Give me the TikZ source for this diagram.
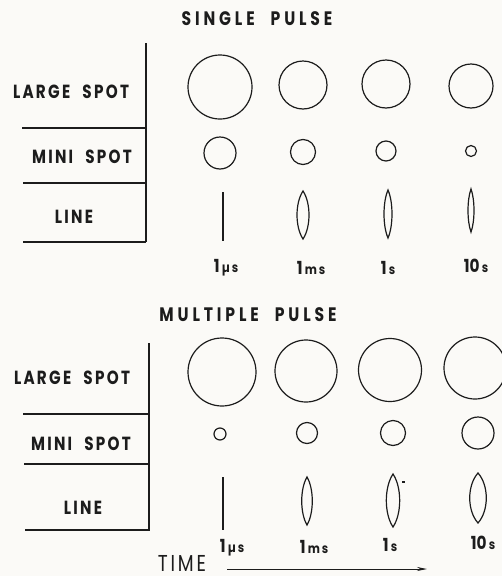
\documentclass[tikz,border=0pt]{standalone}
\usepackage{fontspec}
\setmainfont{Poppins}
\newfontfamily\titlefont[LetterSpace=20, FakeStretch=0.8, WordSpace=2.2]{Poppins}
\newfontfamily\rowfont[LetterSpace=12, FakeStretch=0.8, WordSpace=2.2]{Poppins}
\newfontfamily\unitfont[LetterSpace=14, FakeStretch=0.85]{Poppins}
\newfontfamily\narrowfont[FakeStretch=0.85]{Poppins}
\usetikzlibrary{arrows.meta}
\definecolor{paper}{RGB}{251,250,247}
\definecolor{ink}{RGB}{28,28,28}

% time value: big digit, small unit
\newcommand{\tval}[2]{{\fontsize{18}{18}\selectfont #1}{\unitfont\bfseries\fontsize{13.5}{13.5}\selectfont\,#2}}
% lens: x, top, bottom, half width
\newcommand{\lens}[4]{%
  \draw[spot] (#1,#2) .. controls ({#1+1.33*#4},{#2+0.25*(#3-#2)}) and ({#1+1.33*#4},{#3-0.25*(#3-#2)}) .. (#1,#3)
    .. controls ({#1-1.33*#4},{#3-0.25*(#3-#2)}) and ({#1-1.33*#4},{#2+0.25*(#3-#2)}) .. cycle;}

\begin{document}
\begin{tikzpicture}[x=1pt, y=-1pt,
      every node/.style={text=ink, inner sep=0pt},
      heading/.style={font=\titlefont\bfseries\fontsize{19.5}{19.5}\selectfont},
      rowlabel/.style={font=\rowfont\bfseries\fontsize{19}{19}\selectfont},
      axislabel/.style={font=\rowfont\fontsize{23}{23}\selectfont},
      tlabel/.style={font=\narrowfont\bfseries},
      spot/.style={draw=ink, line width=1.2pt},
      frame/.style={draw=ink, line width=1.3pt},
      arrow/.style={-{Stealth[length=10pt, width=4pt]}, draw=ink, line width=0.9pt}
  ]
    \fill[paper] (0,0) rectangle (502,576);
    \useasboundingbox (0,0) rectangle (502,576);

    % single pulse
    \node[heading] (single) at (257,19) {SINGLE PULSE};
    \draw[frame] (146,43) -- (146,242);
    \draw[frame] (22,128) -- (146,128);
    \draw[frame] (23,183) -- (146,183);
    \draw[frame] (23,242) -- (146,242);
    \node[rowlabel] (slarge) at (71,92) {LARGE SPOT};
    \node[rowlabel] (smini) at (82,157) {MINI SPOT};
    \node[rowlabel] (sline) at (74,217) {LINE};

    \draw[spot] (220,87) circle[radius=32];
    \draw[spot] (303,85) circle[radius=24];
    \draw[spot] (386,84) circle[radius=24];
    \draw[spot] (471,86) circle[radius=22];
    \draw[spot] (220,153) circle[radius=16];
    \draw[spot] (303,152) circle[radius=12.5];
    \draw[spot] (386,151) circle[radius=10];
    \draw[spot] (471,151) circle[radius=5.5];
    \draw[spot, line width=1.4pt] (223,192) -- (223,241);
    \lens{303}{191}{239}{6}
    \lens{388}{190}{238}{4}
    \lens{471}{189}{232}{3}

    \node[tlabel] (s1) at (226,268) {\tval{1}{µs}};
    \node[tlabel] (s2) at (311,268) {\tval{1}{ms}};
    \node[tlabel] (s3) at (388,268) {\tval{1}{s}};
    \node[tlabel] (s4) at (476,266) {\tval{10}{s}};

    % multiple pulse
    \node[heading] (multi) at (248,315) {MULTIPLE PULSE};
    \draw[frame] (149,343) -- (149,531);
    \draw[frame] (23,414) -- (149,414);
    \draw[frame] (24,464) -- (149,464);
    \draw[frame] (25,530) -- (149,530);
    \node[rowlabel] (mlarge) at (72,378) {LARGE SPOT};
    \node[rowlabel] (mmini) at (81,444) {MINI SPOT};
    \node[rowlabel] (mline) at (83,508) {LINE};

    \draw[spot] (222,372) circle[radius=34];
    \draw[spot] (306,371) circle[radius=31];
    \draw[spot] (390,370) circle[radius=31.5];
    \draw[spot] (475,368) circle[radius=31];
    \draw[spot] (220,434) circle[radius=6];
    \draw[spot] (307,433) circle[radius=10.5];
    \draw[spot] (393,433) circle[radius=12.5];
    \draw[spot] (478,433) circle[radius=16];
    \draw[spot, line width=1.4pt] (223,477) -- (223,530);
    \lens{307}{477}{525}{5.3}
    \lens{393}{474}{527}{6.7}
    \draw[spot, line width=1.5pt] (402,482) -- (405,482);
    \lens{478}{473}{523}{8.3}

    \node[tlabel] (m1) at (232,548) {\tval{1}{µs}};
    \node[tlabel] (m2) at (314,547) {\tval{1}{ms}};
    \node[tlabel] (m3) at (390,545) {\tval{1}{s}};
    \node[tlabel] (m4) at (483,543) {\tval{10}{s}};

    \node[axislabel] (time) at (182,563) {TIME};
    \coordinate (tstart) at (227,569);
    \coordinate (tend) at (427,569);
    \draw[arrow] (tstart) -- (tend);
  \end{tikzpicture}
\end{document}
